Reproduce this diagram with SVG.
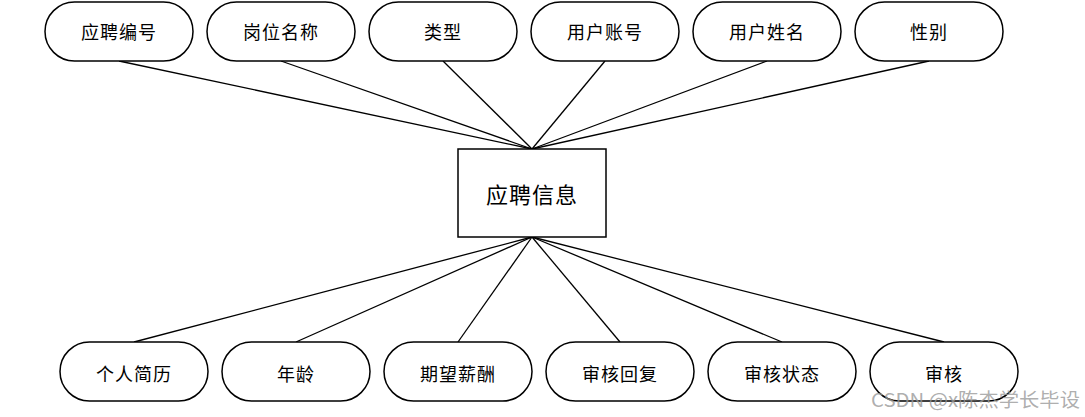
<svg xmlns="http://www.w3.org/2000/svg" width="1085" height="417" viewBox="0 0 1085 417">
<style>
.pill{fill:#fff;stroke:#000;stroke-width:1.5}
.box{fill:#fff;stroke:#000;stroke-width:1.5}
.lbl{font-family:"Noto Sans CJK SC","Noto Sans",sans-serif;font-size:18px;text-anchor:middle;dominant-baseline:central;fill:#000;letter-spacing:1px}
.conn line{stroke:#000;stroke-width:1.3}
</style>
<rect width="1085" height="417" fill="#fff"/>
<g id="connectors" class="conn">
<line x1="119" y1="61" x2="532" y2="149"/>
<line x1="281" y1="61" x2="532" y2="149"/>
<line x1="443" y1="61" x2="532" y2="149"/>
<line x1="605" y1="61" x2="532" y2="149"/>
<line x1="767" y1="61" x2="532" y2="149"/>
<line x1="929" y1="61" x2="532" y2="149"/>
<line x1="134" y1="342" x2="532" y2="237"/>
<line x1="296" y1="342" x2="532" y2="237"/>
<line x1="458" y1="342" x2="532" y2="237"/>
<line x1="620" y1="342" x2="532" y2="237"/>
<line x1="782" y1="342" x2="532" y2="237"/>
<line x1="944" y1="342" x2="532" y2="237"/>
</g>
<g id="center"><rect class="box" x="458" y="149" width="148" height="88"/><text class="lbl" x="532" y="193" style="font-size:22px">应聘信息</text></g>
<g id="t1"><rect class="pill" x="45" y="2" width="148" height="59" rx="29.5"/><text class="lbl" x="119" y="31">应聘编号</text></g>
<g id="t2"><rect class="pill" x="207" y="2" width="148" height="59" rx="29.5"/><text class="lbl" x="281" y="31">岗位名称</text></g>
<g id="t3"><rect class="pill" x="369" y="2" width="148" height="59" rx="29.5"/><text class="lbl" x="443" y="31">类型</text></g>
<g id="t4"><rect class="pill" x="531" y="2" width="148" height="59" rx="29.5"/><text class="lbl" x="605" y="31">用户账号</text></g>
<g id="t5"><rect class="pill" x="693" y="2" width="148" height="59" rx="29.5"/><text class="lbl" x="767" y="31">用户姓名</text></g>
<g id="t6"><rect class="pill" x="855" y="2" width="148" height="59" rx="29.5"/><text class="lbl" x="929" y="31">性别</text></g>
<g id="b1"><rect class="pill" x="60" y="342" width="148" height="59" rx="29.5"/><text class="lbl" x="134" y="373">个人简历</text></g>
<g id="b2"><rect class="pill" x="222" y="342" width="148" height="59" rx="29.5"/><text class="lbl" x="296" y="373">年龄</text></g>
<g id="b3"><rect class="pill" x="384" y="342" width="148" height="59" rx="29.5"/><text class="lbl" x="458" y="373">期望薪酬</text></g>
<g id="b4"><rect class="pill" x="546" y="342" width="148" height="59" rx="29.5"/><text class="lbl" x="620" y="373">审核回复</text></g>
<g id="b5"><rect class="pill" x="708" y="342" width="148" height="59" rx="29.5"/><text class="lbl" x="782" y="373">审核状态</text></g>
<g id="b6"><rect class="pill" x="870" y="342" width="148" height="59" rx="29.5"/><text class="lbl" x="944" y="373">审核</text></g>
<text x="871" y="407" textLength="209" lengthAdjust="spacingAndGlyphs" style="font-family:'Noto Sans CJK SC','Noto Sans',sans-serif;font-size:19px;fill:#999;fill-opacity:0.8">CSDN @x陈杰学长毕设</text>
</svg>
